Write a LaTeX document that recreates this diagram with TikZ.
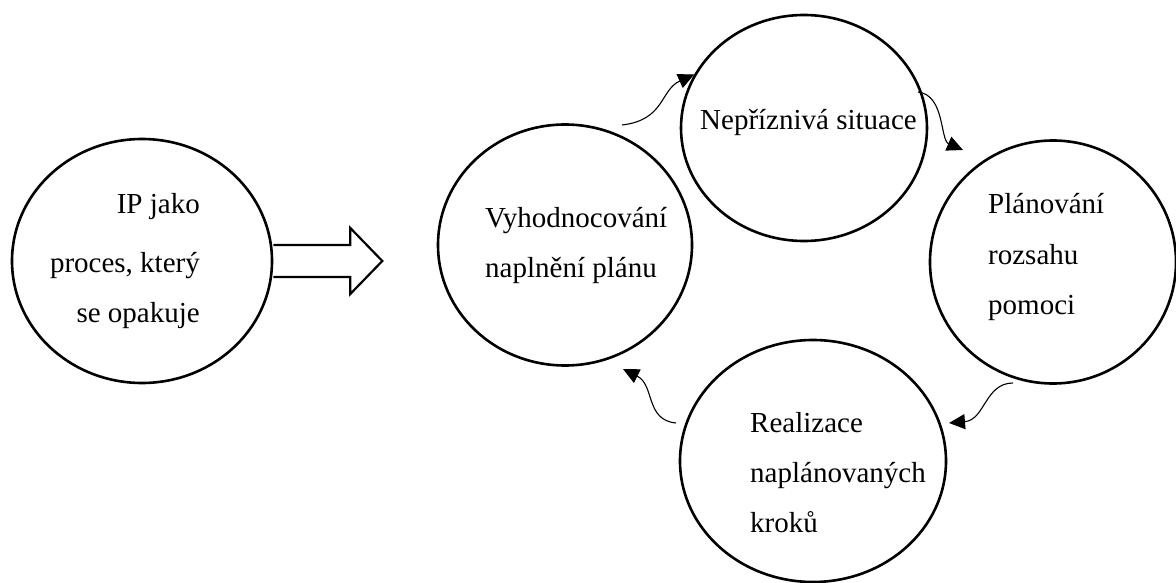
\documentclass[tikz,border=0pt]{standalone}
\usepackage{fontspec}
\setmainfont{Liberation Serif}
\usetikzlibrary{arrows.meta, shapes.geometric}

\begin{document}
\begin{tikzpicture}[x=1pt, y=-1pt,
    phase/.style={draw, ellipse, line width=2.6pt, inner sep=0pt},
    txt/.style={inner sep=0pt, font=\fontsize{29}{35}\selectfont},
    loopArrow/.style={line width=1.1pt, -{Triangle[length=16pt, width=15pt]}},
    bigArrow/.style={line width=2.2pt, line join=miter}]
  \useasboundingbox (0,0) rectangle (1176,583);
  % ellipses
  \node[phase, minimum width=260pt, minimum height=244pt] (ip) at (142,261) {};
  \node[phase, minimum width=254pt, minimum height=241pt] (vyh) at (565,245) {};
  \node[phase, minimum width=246pt, minimum height=226pt] (nep) at (804,128) {};
  \node[phase, minimum width=246pt, minimum height=243pt] (pla) at (1053,262) {};
  \node[phase, minimum width=266pt, minimum height=242pt] (rea) at (813,461) {};
  % texts
  \foreach \y/\t [count=\i] in {213/IP jako, 272/{proces, který}, 322/se opakuje}
    \node[txt, anchor=base east] (ipT\i) at (200,\y) {\t};
  \foreach \t [count=\i from 0] in {Vyhodnocování, naplnění plánu}
    \node[txt, anchor=base west] (vyhT\i) at (485,227+50*\i) {\t};
  \node[txt, anchor=base west] (nepT) at (700,130) {Nepříznivá situace};
  \foreach \t [count=\i from 0] in {Plánování, rozsahu, pomoci}
    \node[txt, anchor=base west] (plaT\i) at (988,214+50*\i) {\t};
  \foreach \t [count=\i from 0] in {Realizace, naplánovaných, kroků}
    \node[txt, anchor=base west] (reaT\i) at (750,432+50*\i) {\t};
  % big arrow
  \draw[bigArrow] (ip.east) ++(0,-16) -- ++(77,0) -- ++(0,-17) -- ++(32,33)
    -- ++(-32,33) -- ++(0,-17) -- ++(-77,0);
  % cycle
  \coordinate (a1) at (622,125);
  \coordinate (a2) at (918,92);  \coordinate (b2) at (963,150);
  \coordinate (a3) at (1013,383); \coordinate (b3) at (949,423);
  \coordinate (a4) at (676,423); \coordinate (b4) at (623,369);
  \draw[loopArrow] (a1) .. controls (665,120) and (660,90) .. (nep.154);
  \draw[loopArrow] (a2) .. controls (945,95) and (940,140) .. (b2);
  \draw[loopArrow] (a3) .. controls (985,383) and (985,420) .. (b3);
  \draw[loopArrow] (a4) .. controls (645,420) and (655,385) .. (b4);
\end{tikzpicture}
\end{document}
